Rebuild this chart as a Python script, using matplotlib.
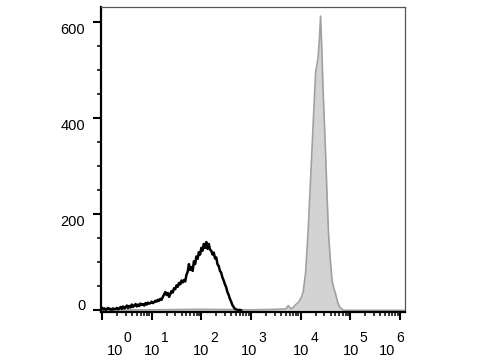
import numpy as np
import matplotlib
matplotlib.use("Agg")
import matplotlib.pyplot as plt
from matplotlib.ticker import LogLocator, NullFormatter, MultipleLocator

plt.rcParams['font.family'] = ['Liberation Sans', 'DejaVu Sans']

# control (black line): channel positions in decades and event counts
ctrl_decades = np.linspace(0, 2.8, 113)
ctrl_counts = [5, 2, 4, 1, 3, 5, 2, 3, 1, 4,
               2, 3, 5, 2, 4, 7, 3, 8, 4, 6,
               10, 5, 9, 6, 12, 7, 10, 13, 8, 12,
               9, 14, 11, 13, 10, 15, 12, 16, 14, 15,
               18, 15, 17, 20, 18, 22, 20, 24, 22, 28,
               33, 38, 32, 36, 28, 34, 40, 37, 46, 44,
               52, 49, 57, 54, 62, 58, 63, 60, 74, 80,
               96, 84, 90, 82, 102, 96, 112, 107, 121, 116,
               130, 124, 138, 130, 142, 128, 138, 126, 124, 116,
               120, 108, 110, 96, 92, 82, 78, 68, 62, 54,
               48, 38, 32, 24, 18, 11, 7, 3, 2, 1,
               0, 1, 0]

# stained sample (grey filled)
stain_decades = [0.0, 1.0, 2.0, 3.0, 3.5, 3.7, 3.75, 3.8, 3.85, 3.9, 3.95, 4.0,
                 4.05, 4.1, 4.15, 4.2, 4.25, 4.3, 4.35, 4.38, 4.4, 4.42,
                 4.45, 4.5, 4.53, 4.56, 4.6, 4.63, 4.67, 4.7, 4.74, 4.79, 4.85, 4.9, 6.1]
stain_counts = [1, 1, 2, 1, 2, 3, 10, 3, 6, 12, 16, 24,
                38, 80, 165, 275, 385, 495, 525, 570, 612, 560,
                460, 330, 240, 160, 100, 62, 45, 35, 18, 6, 1, 0, 0]

y_major = [0, 200, 400, 600]
x_exponents = ['0', '1', '2', '3', '4', '5', '6']
x_label_shift = [0.42, 0.17, 0.15, 0.13, 0.18, 0.17, -0.1]

fig = plt.figure(figsize=(4.8, 3.6), dpi=100)
ax = fig.add_axes([0.2104, 0.134, 0.6334, 0.8466])

sx = 10 ** np.asarray(stain_decades)
ax.fill_between(sx, 0, stain_counts, color='#d3d3d3', linewidth=0)
ax.plot(sx, stain_counts, color='#a0a0a0', linewidth=1.2)

cx = 10 ** ctrl_decades
ax.plot(cx, ctrl_counts, color='black', linewidth=1.8)

ax.set_xscale('log')
ax.set_xlim(10 ** -0.02, 10 ** 6.1)
ax.set_ylim(-3, 631)

ax.xaxis.set_major_locator(LogLocator(base=10, numticks=10))
ax.xaxis.set_minor_locator(LogLocator(base=10, subs=np.arange(2, 10), numticks=20))
ax.xaxis.set_major_formatter(NullFormatter())
ax.xaxis.set_minor_formatter(NullFormatter())
ax.yaxis.set_major_locator(MultipleLocator(200))
ax.yaxis.set_minor_locator(MultipleLocator(50))
ax.set_yticklabels([])

ax.tick_params(which='major', length=6, width=1.5, color='black', direction='out')
ax.tick_params(which='minor', length=3, width=1.1, color='black', direction='out')

for side in ['left', 'bottom']:
    ax.spines[side].set_linewidth(1.6)
    ax.spines[side].set_color('black')
for side in ['top', 'right']:
    ax.spines[side].set_linewidth(0.9)
    ax.spines[side].set_color('#555555')

# y tick labels
ytr = ax.get_yaxis_transform()
for v in y_major:
    if v == 0:
        ax.text(-0.05, v + 1, str(v), transform=ytr, ha='right', va='baseline', fontsize=10.5)
    else:
        ax.text(-0.053, v - 2, str(v), transform=ytr, ha='right', va='top', fontsize=10.5)

# x tick labels as 10 with raised exponent
xtr = ax.get_xaxis_transform()
for i, e in enumerate(x_exponents):
    pos = 10 ** (i + x_label_shift[i])
    ax.text(pos, -0.142, '10', transform=xtr, ha='right', va='baseline', fontsize=10.5)
    ax.text(pos * 10 ** 0.02, -0.1, e, transform=xtr, ha='left', va='baseline', fontsize=10)

fig.savefig('out.png', dpi=100)
